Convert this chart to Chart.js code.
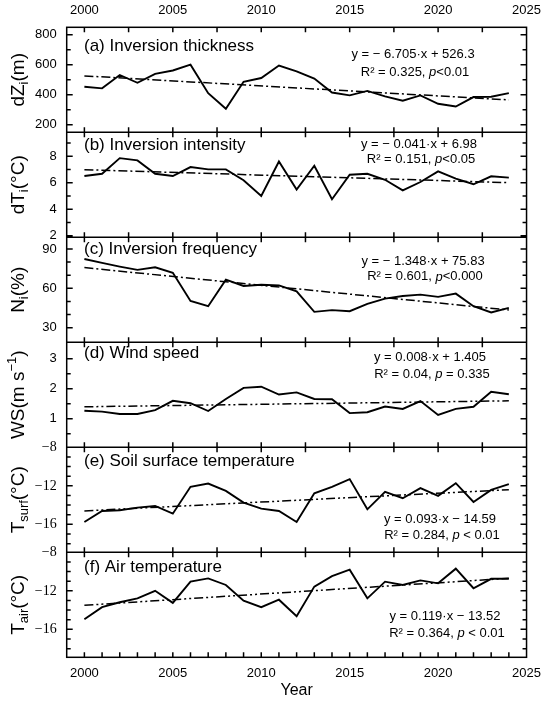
<!DOCTYPE html>
<html>
<head>
<meta charset="utf-8">
<script src="https://cdn.jsdelivr.net/npm/chart.js@4.4.1/dist/chart.umd.min.js"></script>
<style>
html,body{margin:0;padding:0;background:#fff;}
#wrap{width:550px;height:703px;position:relative;}
</style>
</head>
<body>
<div id="wrap"><canvas id="myChart"></canvas></div>
<script>
// anos de la serie
var years = [2000,2001,2002,2003,2004,2005,2006,2007,2008,2009,2010,2011,2012,2013,2014,2015,2016,2017,2018,2019,2020,2021,2022,2023,2024];

var thickness = [454,443,532,480,540,562,601,411,307,487,512,595,556,508,415,396,426,389,361,396,340,322,385,387,411];
var intensity = [6.5,6.67,7.85,7.68,6.67,6.5,7.18,7.0,7.0,6.18,5.0,7.6,5.48,7.28,4.75,6.6,6.67,6.22,5.42,6.05,6.85,6.3,5.88,6.48,6.38];
var frequency = [82.4,79.4,76.6,74.1,76.1,71.9,50.4,46.4,66.6,61.8,62.8,62.3,57.7,42.1,43.4,42.6,48.2,52.2,54.2,55.2,53.5,56,46.4,41.6,45.1];
var windSpeed = [1.27,1.24,1.16,1.16,1.29,1.60,1.52,1.26,1.66,2.03,2.07,1.81,1.88,1.66,1.65,1.19,1.22,1.41,1.33,1.59,1.13,1.33,1.40,1.90,1.82];
var soilTemp = [-15.76,-14.61,-14.54,-14.26,-14.09,-14.89,-12.10,-11.76,-12.52,-13.74,-14.37,-14.61,-15.76,-12.77,-12.10,-11.30,-14.44,-12.63,-13.29,-12.24,-13.04,-11.72,-13.67,-12.42,-11.83];
var airTemp = [-14.95,-13.70,-13.19,-12.78,-12.0,-13.25,-11.05,-10.71,-11.39,-13.02,-13.70,-12.92,-14.64,-11.56,-10.47,-9.80,-12.78,-11.05,-11.39,-10.92,-11.22,-9.70,-11.73,-10.75,-10.75];

// extremos de las rectas de tendencia (2000 y 2024)
var trendYears = [2000, 2024];
var trendThickness = [526, 366];
var trendIntensity = [6.98, 6.0];
var trendFrequency = [75.8, 43.5];
var trendWind = [1.40, 1.60];
var trendSoil = [-14.6, -12.4];
var trendAir = [-13.5, -10.7];

// marcas de los ejes
var xLabelTicks = [2000,2005,2010,2015,2020,2025];
var xInnerTicks = [2000,2002.5,2005,2007.5,2010,2012.5,2015,2017.5,2020,2022.5];
var yMajor = [[200,400,600,800],[2,4,6,8],[30,60,90],[1,2,3],[-8,-12,-16],[-8,-12,-16]];
var yMinor = [[300,500,700],[3,5,7,9],[40,50,70,80],[0.5,1.5,2.5],[-9,-10,-11,-13,-14,-15,-17,-18],[-9,-10,-11,-13,-14,-15,-17,-18]];

// textos
var panelLabels = ['(a) Inversion thickness','(b) Inversion intensity','(c) Inversion frequency','(d) Wind speed','(e) Soil surface temperature','(f) Air temperature'];
var equations = ['y = \u2212 6.705\u00b7x + 526.3','y = \u2212 0.041\u00b7x + 6.98','y = \u2212 1.348\u00b7x + 75.83','y = 0.008\u00b7x + 1.405','y = 0.093\u00b7x \u2212 14.59','y = 0.119\u00b7x \u2212 13.52'];
var stats = [['R\u00b2 = 0.325, ','<0.01'],['R\u00b2 = 0.151, ','<0.05'],['R\u00b2 = 0.601, ','<0.000'],['R\u00b2 = 0.04, ',' = 0.335'],['R\u00b2 = 0.284, ',' < 0.01'],['R\u00b2 = 0.364, ',' < 0.01']];
var yTitles = [
  [['dZ',''],['i','sub'],['(m)','']],
  [['dT',''],['i','sub'],['(\u00b0C)','']],
  [['N',''],['i','sub'],['(%)','']],
  [['WS(m s',''],['\u22121','sup'],[')','']],
  [['T',''],['surf','sub'],['(\u00b0C)','']],
  [['T',''],['air','sub'],['(\u00b0C)','']]
];

var panelIds = ['ya','yb','yc','yd','ye','yf'];
var ranges = [[150,850],[1.88,9.8],[18.9,98.9],[0.05,3.55],[-18.9,-8],[-18.9,-8]];
var SANS = '"Liberation Sans", Arial, sans-serif';
var SERIF = '"Liberation Serif", "Times New Roman", serif';

function puntos(xs, ys){
    return xs.map(function(x,i){ return {x:x, y:ys[i]}; });
}

var series = [thickness,intensity,frequency,windSpeed,soilTemp,airTemp];
var trends = [trendThickness,trendIntensity,trendFrequency,trendWind,trendSoil,trendAir];

var datasets = [];
panelIds.forEach(function(id,i){
    datasets.push({data:puntos(years,series[i]), yAxisID:id, xAxisID:'x', borderColor:'#000', borderWidth:1.9, pointRadius:0, tension:0, fill:false});
    datasets.push({data:puntos(trendYears,trends[i]), yAxisID:id, xAxisID:'x', borderColor:'#000', borderWidth:1.5, pointRadius:0, fill:false,
        borderDash: i<3 ? [9,3,2,3] : [9,3,2,3,2,3]});
});

function ejeY(i){
    var serif = i>=4;
    return {
        type:'linear', position:'left', stack:'panels', stackWeight:1, weight:6-i,
        min:ranges[i][0], max:ranges[i][1],
        grid:{display:false, drawTicks:false}, border:{display:false},
        ticks:{autoSkip:false, padding:10, color:'#000',
            font: serif ? {family:SERIF, size:14} : {family:SANS, size:13},
            callback:function(v){ return String(v).replace('-','\u2212'); }},
        afterBuildTicks:function(s){ s.ticks = yMajor[i].map(function(v){ return {value:v}; }); },
        afterFit:function(s){ s.width = 66.7; }
    };
}

var scales = {
    x:{type:'linear', position:'bottom', min:1999, max:2025,
        grid:{display:false, drawTicks:false}, border:{display:false},
        ticks:{padding:8, color:'#000', font:{family:SANS,size:13}, callback:function(v){ return String(v); }},
        afterBuildTicks:function(s){ s.ticks = xLabelTicks.map(function(v){ return {value:v}; }); },
        title:{display:true, text:'Year', color:'#000', font:{family:SANS,size:16}, padding:{top:0,bottom:3}},
        afterFit:function(s){ s.height = 45.7; }},
    x2:{type:'linear', position:'top', min:1999, max:2025,
        grid:{display:false, drawTicks:false}, border:{display:false},
        ticks:{padding:9, color:'#000', font:{family:SANS,size:13}, callback:function(v){ return String(v); }},
        afterBuildTicks:function(s){ s.ticks = xLabelTicks.map(function(v){ return {value:v}; }); },
        afterFit:function(s){ s.height = 27.3; }}
};
panelIds.forEach(function(id,i){ scales[id] = ejeY(i); });

// texto con partes en cursiva / subindice / superindice
function dibujaPartes(ctx, partes, cx, cy, size){
    var ancho = 0;
    partes.forEach(function(p){
        var sz = p[1]==='sub'||p[1]==='sup' ? size*0.68 : size;
        ctx.font = (p[1]==='italic'?'italic ':'') + sz + 'px ' + SANS;
        ancho += ctx.measureText(p[0]).width;
    });
    var x = cx - ancho/2;
    ctx.textAlign = 'left'; ctx.textBaseline = 'middle';
    partes.forEach(function(p){
        var sz = p[1]==='sub'||p[1]==='sup' ? size*0.68 : size;
        var dy = p[1]==='sub' ? size*0.3 : (p[1]==='sup' ? -size*0.35 : 0);
        ctx.font = (p[1]==='italic'?'italic ':'') + sz + 'px ' + SANS;
        ctx.fillText(p[0], x, cy+dy);
        x += ctx.measureText(p[0]).width;
    });
}

var eqPos = [[413,27,45],[419,12,27.4],[423,24.5,39.6],[430,14.8,32.3],[440,72,87.7],[445,64,81.5]];
var labelDy = [19,13,12.2,11.3,14,14.8];

var marcos = {
    id:'marcos',
    afterDraw:function(chart){
        var ctx = chart.ctx, a = chart.chartArea, sx = chart.scales.x;
        ctx.save();
        ctx.strokeStyle = '#000'; ctx.fillStyle = '#000'; ctx.lineWidth = 1.5;
        ctx.strokeRect(a.left, a.top, a.right-a.left, a.bottom-a.top);
        ctx.beginPath();
        panelIds.forEach(function(id,i){
            var s = chart.scales[id];
            if (i<5){ ctx.moveTo(a.left, s.bottom); ctx.lineTo(a.right, s.bottom); }
            yMajor[i].forEach(function(v){
                var py = s.getPixelForValue(v);
                if (py < s.top+1 || py > s.bottom-1) return;
                ctx.moveTo(a.left, py); ctx.lineTo(a.left+6, py);
                ctx.moveTo(a.right, py); ctx.lineTo(a.right-6, py);
            });
            yMinor[i].forEach(function(v){
                var py = s.getPixelForValue(v);
                ctx.moveTo(a.left, py); ctx.lineTo(a.left+4, py);
                ctx.moveTo(a.right, py); ctx.lineTo(a.right-4, py);
            });
            xInnerTicks.forEach(function(v){
                var px = sx.getPixelForValue(v);
                ctx.moveTo(px, s.top); ctx.lineTo(px, s.top+5);
                if (i<5){ ctx.moveTo(px, s.bottom); ctx.lineTo(px, s.bottom-5); }
            });
        });
        years.forEach(function(v){
            var px = sx.getPixelForValue(v);
            ctx.moveTo(px, a.bottom); ctx.lineTo(px, a.bottom-5);
        });
        ctx.stroke();

        panelIds.forEach(function(id,i){
            var s = chart.scales[id];
            ctx.font = '17px ' + SANS; ctx.textAlign = 'left'; ctx.textBaseline = 'middle';
            ctx.fillText(panelLabels[i], 84, s.top + labelDy[i]);
            dibujaPartes(ctx, [[equations[i],'']], eqPos[i][0], s.top + eqPos[i][1], 13);
            dibujaPartes(ctx, [[stats[i][0],''],['p','italic'],[stats[i][1],'']], eqPos[i][0]+2, s.top + eqPos[i][2], 13);
            ctx.save();
            ctx.translate(19, (s.top+s.bottom)/2);
            ctx.rotate(-Math.PI/2);
            dibujaPartes(ctx, yTitles[i], 0, 0, 19);
            ctx.restore();
        });
        ctx.restore();
    }
};

var ctx = document.getElementById('myChart').getContext('2d');
var chart = new Chart(ctx, {
    type:'line',
    data:{datasets:datasets},
    options:{
        responsive:true, maintainAspectRatio:false, animation:false,
        layout:{padding:{left:0,right:20,top:0,bottom:0}},
        plugins:{legend:{display:false}, tooltip:{enabled:false}},
        scales:scales
    },
    plugins:[marcos]
});
</script>
</body>
</html>
